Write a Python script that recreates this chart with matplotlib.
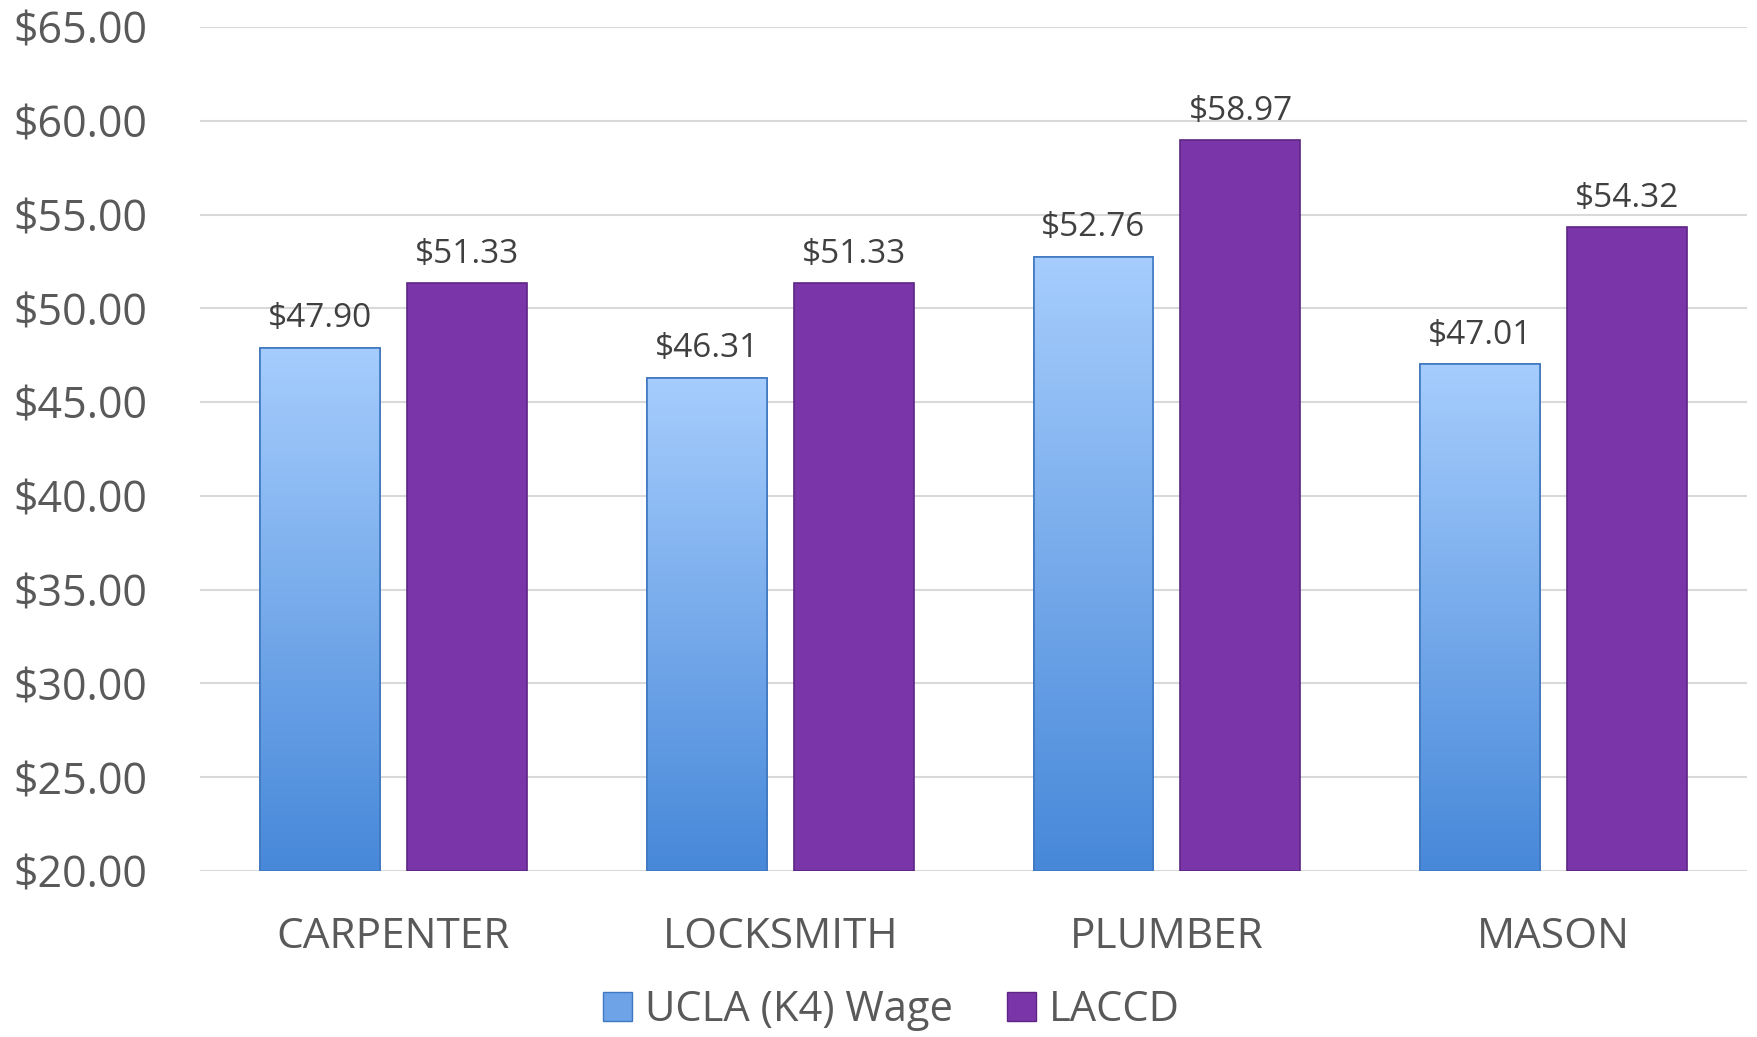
import numpy as np
import matplotlib.pyplot as plt
from matplotlib.colors import LinearSegmentedColormap
from matplotlib.patches import Patch

trades = ["CARPENTER", "LOCKSMITH", "PLUMBER", "MASON"]
ucla = [47.90, 46.31, 52.76, 47.01]
laccd = [51.33, 51.33, 58.97, 54.32]
series_names = ["UCLA (K4) Wage", "LACCD"]

text_col = "#595959"
purple = "#7a35a8"
blue_map = LinearSegmentedColormap.from_list("bl", ["#4788d9", "#a6cdfd"])

plt.rcParams['font.family'] = ['Open Sans', 'DejaVu Sans']

fig = plt.figure(figsize=(17.58, 10.37), dpi=100)
ax = fig.add_axes([0.1138, 0.160, 0.880, 0.814])

x = np.arange(len(trades))
w = 0.31
off = 0.19
ymin, ymax = 20, 65

b1 = ax.bar(x - off, np.array(ucla) - ymin, w, bottom=ymin, color="#7fb0ee",
            edgecolor="#3f78c0", linewidth=1.2, zorder=3)
b2 = ax.bar(x + off, np.array(laccd) - ymin, w, bottom=ymin, color=purple,
            edgecolor="#5e2585", linewidth=1.2, zorder=3)

# vertical gradient on the blue bars
grad = np.linspace(0, 1, 256).reshape(-1, 1)
for r in b1:
    x0, y0 = r.get_x(), r.get_y()
    im = ax.imshow(grad, cmap=blue_map, origin="lower", aspect="auto",
                   extent=[x0, x0 + r.get_width(), ymin, y0 + r.get_height()],
                   zorder=3.5)
    im.set_clip_path(r)
    ax.bar(x0 + r.get_width() / 2, r.get_height(), r.get_width(), bottom=y0,
           fill=False, edgecolor="#3f78c0", linewidth=1.2, zorder=4)

for bars, vals in ((b1, ucla), (b2, laccd)):
    for r, v in zip(bars, vals):
        ax.annotate(f"${v:.2f}", (r.get_x() + r.get_width() / 2, v),
                    xytext=(0, 9), textcoords="offset points",
                    ha="center", va="bottom", fontsize=24, color="#404040", zorder=5)

ax.set_xlim(-0.5, len(trades) - 0.5)
ax.set_ylim(ymin, ymax)
ax.set_yticks(np.arange(20, 66, 5))
ax.set_yticklabels([f"${t:.2f}" for t in np.arange(20, 66, 5)])
ax.set_xticks(x)
ax.set_xticklabels(trades)
ax.tick_params(axis="both", length=0, colors=text_col)
ax.tick_params(axis="y", pad=38, labelsize=31)
ax.tick_params(axis="x", pad=32, labelsize=30.5)
ax.grid(axis="y", color="#d9d9d9", linewidth=1.5, zorder=0)
ax.set_axisbelow(True)
for s in ax.spines.values():
    s.set_visible(False)

handles = [Patch(facecolor="#6ea3e8", edgecolor="#3f78c0"),
           Patch(facecolor=purple, edgecolor="#5e2585")]
fig.legend(handles, series_names, loc="center", bbox_to_anchor=(0.507, 0.026),
           ncol=2, frameon=False, fontsize=30, labelcolor=text_col,
           handlelength=0.7, handleheight=0.7, handletextpad=0.3, columnspacing=1.3,
           borderpad=0.1)

fig.savefig("out.png", dpi=100)
